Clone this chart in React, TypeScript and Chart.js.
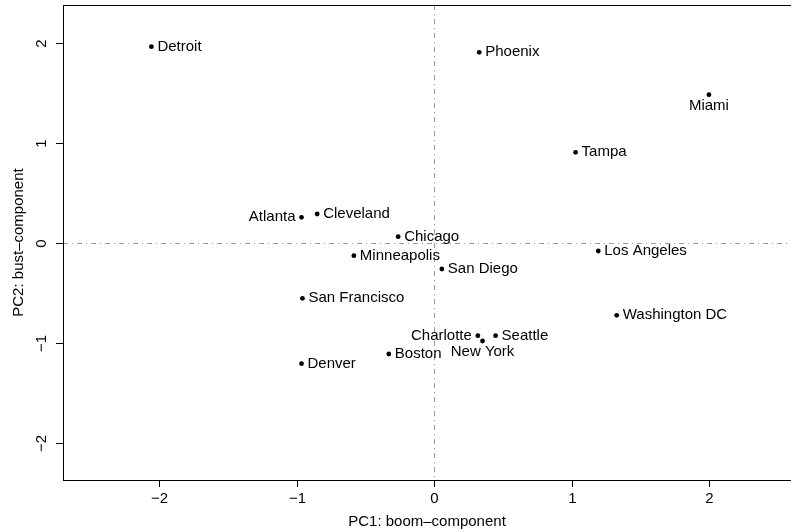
import React, { useEffect, useRef } from "react";
import { Chart, registerables } from "chart.js";

Chart.register(...registerables);

// City scores on the first two principal components
const cities = [
  "Detroit", "Phoenix", "Miami", "Tampa", "Atlanta", "Cleveland", "Chicago",
  "Minneapolis", "San Diego", "Los Angeles", "San Francisco", "Washington DC",
  "Charlotte", "Seattle", "New York", "Boston", "Denver",
];
const pc1 = [
  -2.057, 0.328, 1.999, 1.029, -0.965, -0.851, -0.262,
  -0.584, 0.056, 1.194, -0.958, 1.328,
  0.318, 0.447, 0.352, -0.330, -0.965,
];
const pc2 = [
  1.966, 1.91, 1.486, 0.91, 0.26, 0.293, 0.066,
  -0.124, -0.257, -0.077, -0.55, -0.72,
  -0.924, -0.924, -0.977, -1.107, -1.204,
];
// label side: 1 below, 2 left, 4 right
const labelPos = [4, 4, 1, 4, 2, 4, 4, 4, 4, 4, 4, 4, 2, 4, 1, 4, 4];

const xTicks = [-2, -1, 0, 1, 2];
const yTicks = [-2, -1, 0, 1, 2];
const xTitle = "PC1: boom\u2013component";
const yTitle = "PC2: bust\u2013component";
const xRange = [-2.7, 2.596];
const yRange = [-2.367, 2.383];

const FONT = "15px 'Liberation Sans', Arial, Helvetica, sans-serif";

const fmt = (v: number) => (v < 0 ? "\u2212" + Math.abs(v) : String(v));

const decorations = {
  id: "baseDecorations",
  beforeDatasetsDraw(chart: any) {
    const { ctx, chartArea: a, scales } = chart;
    const x = scales.x;
    const y = scales.y;
    ctx.save();
    // reference lines through the origin
    ctx.strokeStyle = "#9a9a9a";
    ctx.lineWidth = 1;
    ctx.setLineDash([5, 4, 1, 4]);
    const x0 = Math.round(x.getPixelForValue(0)) + 0.5;
    const y0 = Math.round(y.getPixelForValue(0)) + 0.5;
    ctx.beginPath();
    ctx.moveTo(a.left, y0);
    ctx.lineTo(a.right, y0);
    ctx.moveTo(x0, a.top);
    ctx.lineTo(x0, a.bottom);
    ctx.stroke();
    ctx.restore();
  },
  afterDatasetsDraw(chart: any) {
    const { ctx, chartArea: a, scales } = chart;
    const x = scales.x;
    const y = scales.y;
    ctx.save();
    // box
    ctx.strokeStyle = "#000";
    ctx.lineWidth = 1;
    ctx.setLineDash([]);
    ctx.strokeRect(a.left + 0.5, a.top + 0.5, a.right - a.left + 2, a.bottom - a.top);

    ctx.fillStyle = "#000";
    ctx.font = FONT;

    // bottom axis
    ctx.textAlign = "center";
    ctx.textBaseline = "middle";
    xTicks.forEach((t) => {
      const px = Math.round(x.getPixelForValue(t)) + 0.5;
      ctx.beginPath();
      ctx.moveTo(px, a.bottom);
      ctx.lineTo(px, a.bottom + 7);
      ctx.stroke();
      ctx.fillText(fmt(t), px, a.bottom + 19);
    });
    ctx.fillText(xTitle, (a.left + a.right) / 2, a.bottom + 42);

    // left axis
    yTicks.forEach((t) => {
      const py = Math.round(y.getPixelForValue(t)) + 0.5;
      ctx.beginPath();
      ctx.moveTo(a.left - 7, py);
      ctx.lineTo(a.left, py);
      ctx.stroke();
      ctx.save();
      ctx.translate(a.left - 21, py);
      ctx.rotate(-Math.PI / 2);
      ctx.fillText(fmt(t), 0, 0);
      ctx.restore();
    });
    ctx.save();
    ctx.translate(19, (a.top + a.bottom) / 2);
    ctx.rotate(-Math.PI / 2);
    ctx.fillText(yTitle, 0, 0);
    ctx.restore();

    // point labels
    cities.forEach((name, i) => {
      const px = x.getPixelForValue(pc1[i]);
      const py = y.getPixelForValue(pc2[i]);
      const pos = labelPos[i];
      if (pos === 1) {
        ctx.textAlign = "center";
        ctx.textBaseline = "alphabetic";
        ctx.fillText(name, px, py + 15);
      } else if (pos === 2) {
        ctx.textAlign = "right";
        ctx.textBaseline = "middle";
        ctx.fillText(name, px - 6, py);
      } else {
        ctx.textAlign = "left";
        ctx.textBaseline = "middle";
        ctx.fillText(name, px + 6, py);
      }
    });
    ctx.restore();
  },
};

export default function App() {
  const ref = useRef<HTMLCanvasElement | null>(null);

  useEffect(() => {
    if (!ref.current) return;
    const chart = new Chart(ref.current, {
      type: "scatter",
      data: {
        datasets: [
          {
            data: pc1.map((v, i) => ({ x: v, y: pc2[i] })),
            backgroundColor: "#000",
            borderColor: "#000",
            pointRadius: 2.4,
            borderWidth: 0,
          },
        ],
      },
      options: {
        responsive: false,
        animation: false,
        layout: { autoPadding: false, padding: { left: 63, top: 5, right: 0, bottom: 51 } },
        plugins: {
          legend: { display: false },
          tooltip: { enabled: false },
        },
        scales: {
          x: { type: "linear", min: xRange[0], max: xRange[1], display: false },
          y: { type: "linear", min: yRange[0], max: yRange[1], display: false },
        },
      },
      plugins: [decorations],
    });
    return () => chart.destroy();
  }, []);

  return (
    <div style={{ position: "fixed", left: 0, top: 0, width: 791, height: 531, background: "#fff" }}>
      <canvas ref={ref} width={791} height={531} style={{ display: "block" }} />
    </div>
  );
}
